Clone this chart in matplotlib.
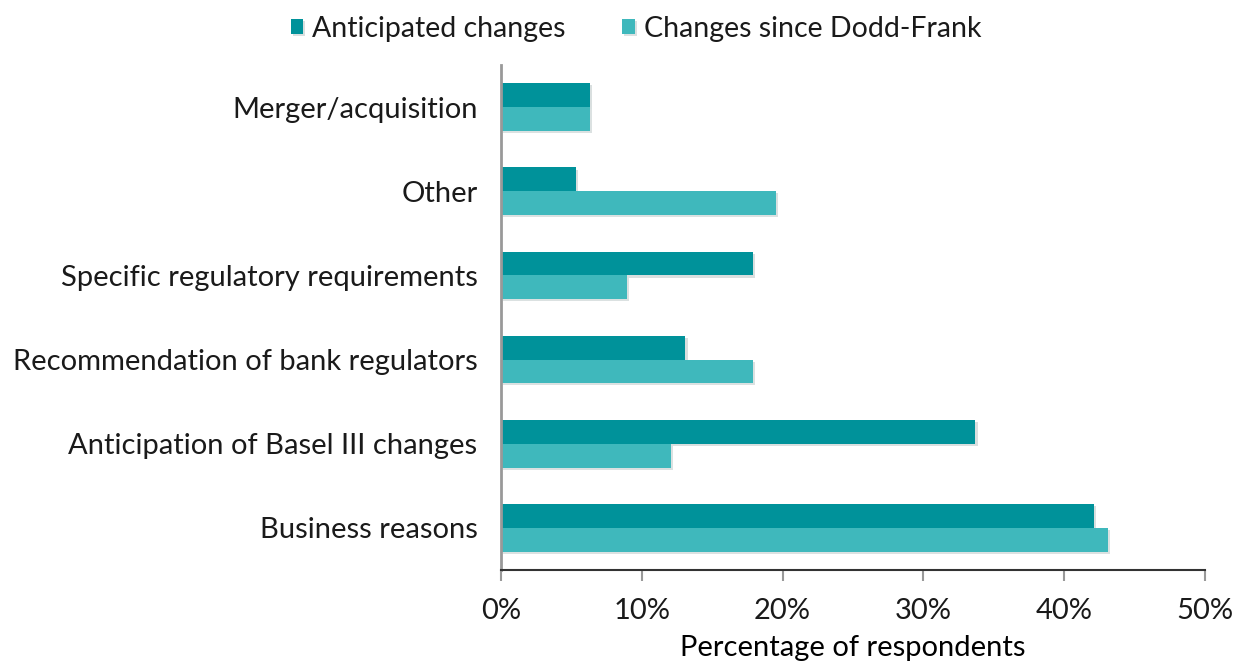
import matplotlib.pyplot as plt
import matplotlib.patheffects as pe
import numpy as np

plt.rcParams['font.family'] = ['Lato', 'DejaVu Sans']

categories = ["Business reasons", "Anticipation of Basel III changes",
              "Recommendation of bank regulators",
              "Specific regulatory requirements", "Other",
              "Merger/acquisition"]
anticipated = [42.1, 33.7, 13.1, 17.9, 5.3, 6.3]
since_dodd_frank = [43.1, 12.1, 17.9, 8.95, 19.5, 6.3]
series_names = ["Anticipated changes", "Changes since Dodd-Frank"]
colors = ["#00929A", "#3FB8BC"]

fig = plt.figure(figsize=(12.42, 6.64), dpi=100)
ax = fig.add_axes([0.4034, 0.1416, 0.5668, 0.7604])

y = np.arange(len(categories))
h = 0.283
shadow = [pe.SimplePatchShadow(offset=(1.5, -1.5), alpha=0.15), pe.Normal()]
b1 = ax.barh(y + h / 2, anticipated, height=h, color=colors[0],
             label=series_names[0])
b2 = ax.barh(y - h / 2, since_dodd_frank, height=h, color=colors[1],
             label=series_names[1])
for bar in list(b1) + list(b2):
    bar.set_path_effects(shadow)

ax.set_xlim(0, 50)
ax.set_ylim(-0.5, len(categories) - 0.5)
ax.set_xticks(range(0, 51, 10))
ax.set_xticklabels([f"{v}%" for v in range(0, 51, 10)])
ax.set_yticks(y)
ax.set_yticklabels(categories)

for s in ["top", "right"]:
    ax.spines[s].set_visible(False)
ax.spines["left"].set_color("#999999")
ax.spines["left"].set_linewidth(2)
ax.spines["bottom"].set_color("#333333")
ax.spines["bottom"].set_linewidth(1.5)
ax.tick_params(axis="x", direction="out", length=8, width=1.5,
               color="#999999", labelsize=21, labelcolor="#1a1a1a", pad=12)
ax.tick_params(axis="y", length=0, labelsize=21, labelcolor="#1a1a1a",
               pad=17)

ax.set_xlabel("Percentage of respondents", fontsize=21, color="black",
              labelpad=8)

fig.legend(handles=[b1, b2], labels=series_names, loc="upper center",
           bbox_to_anchor=(0.512, 1.015), ncol=2, frameon=False,
           fontsize=20.5, handlelength=0.45, handleheight=0.45,
           handletextpad=0.3, columnspacing=2.0, labelcolor="#1a1a1a")

fig.savefig("out.png", dpi=100)
